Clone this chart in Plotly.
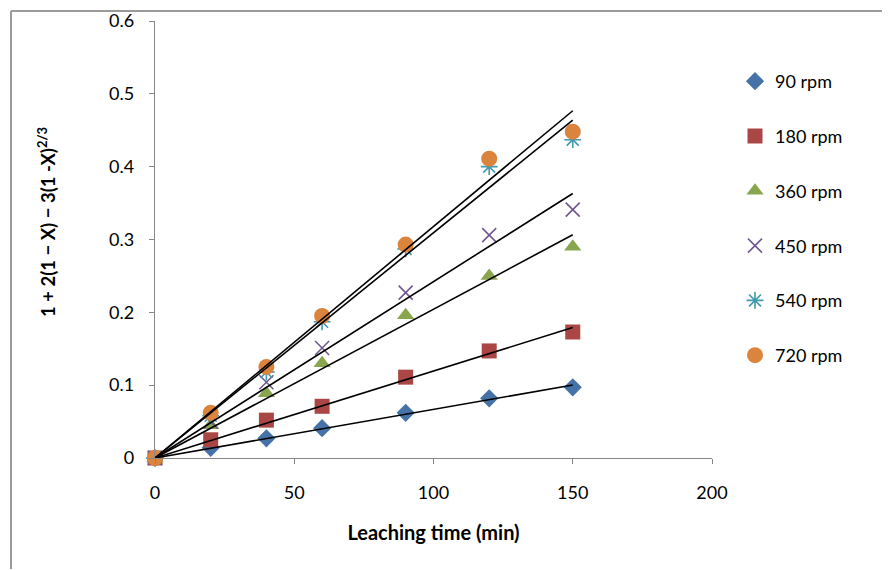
import plotly.graph_objects as go

time_min = [0, 20, 40, 60, 90, 120, 150]
series_names = ["90 rpm", "180 rpm", "360 rpm", "450 rpm", "540 rpm", "720 rpm"]
y_90 = [0, 0.014, 0.027, 0.041, 0.062, 0.082, 0.097]
y_180 = [0, 0.025, 0.052, 0.071, 0.111, 0.147, 0.173]
y_360 = [0, 0.045, 0.089, 0.130, 0.196, 0.250, 0.290]
y_450 = [0, 0.050, 0.104, 0.151, 0.227, 0.306, 0.341]
y_540 = [0, 0.058, 0.118, 0.187, 0.287, 0.400, 0.437]
y_720 = [0, 0.062, 0.125, 0.195, 0.293, 0.411, 0.448]
series_values = [y_90, y_180, y_360, y_450, y_540, y_720]
x_ticks = [0, 50, 100, 150, 200]
y_ticks = [0, 0.1, 0.2, 0.3, 0.4, 0.5, 0.6]

colors = ["#4572A7", "#AA4643", "#89A54E", "#71588F", "#4198AF", "#DB843D"]
symbols = ["diamond", "square", "triangle-up", "x-thin-open", "asterisk-open", "circle"]
sizes = [14, 15, 15, 14, 14, 16]

FONT = "Lato, 'Open Sans', sans-serif"

fig = go.Figure()
for i, (name, vals) in enumerate(zip(series_names, series_values)):
    open_sym = symbols[i].endswith("open")
    fig.add_trace(go.Scatter(
        x=time_min, y=vals, mode="markers", name=name,
        legendgroup=name,
        marker=dict(symbol=symbols[i], size=sizes[i], color=colors[i],
                    line=dict(color=colors[i], width=1.6 if open_sym else 0)),
    ))

# linear trendlines through origin (least squares)
for vals in series_values:
    sxy = sum(x * y for x, y in zip(time_min, vals))
    sxx = sum(x * x for x in time_min)
    k = sxy / sxx
    xe = time_min[-1]
    fig.add_trace(go.Scatter(
        x=[0, xe], y=[0, k * xe], mode="lines", showlegend=False,
        line=dict(color="black", width=1.6), hoverinfo="skip",
    ))

# page body has an 8px margin: compensate
OFF = 8
W, H = 890 - OFF, 570 - OFF
L, R, T, B = 155 - OFF, 712 - OFF, 21 - OFF, 458 - OFF
pw, ph = R - L, B - T

def px2paper_x(px):
    return (px - OFF - L) / pw

def px2paper_y(py):
    return (B - (py - OFF)) / ph

# outer border (top and left)
fig.add_shape(type="line", xref="paper", yref="paper", layer="above",
              x0=px2paper_x(11), x1=px2paper_x(889), y0=px2paper_y(11), y1=px2paper_y(11),
              line=dict(color="#9a9a9a", width=2))
fig.add_shape(type="line", xref="paper", yref="paper", layer="above",
              x0=px2paper_x(11), x1=px2paper_x(11), y0=px2paper_y(11), y1=px2paper_y(569),
              line=dict(color="#9a9a9a", width=2))

# y-axis title as annotation
fig.add_annotation(xref="paper", yref="paper", x=px2paper_x(47), y=px2paper_y(222),
                   text="<b>1 + 2(1 − X) − 3(1 -X)<sup>2/3</sup></b>", textangle=-90,
                   showarrow=False, xanchor="center", yanchor="middle",
                   font=dict(size=18.5, family=FONT, color="black"))

fig.update_layout(
    width=W, height=H,
    margin=dict(l=L, r=W - R, t=T, b=H - B, autoexpand=False),
    paper_bgcolor="white", plot_bgcolor="white",
    font=dict(family=FONT, size=18, color="black"),
    showlegend=True,
    legend=dict(x=px2paper_x(735), y=px2paper_y(63), xanchor="left", yanchor="top",
                font=dict(size=18, family=FONT), tracegroupgap=28.4,
                traceorder="grouped", itemwidth=30, bgcolor="rgba(0,0,0,0)"),
    xaxis=dict(range=[0, 200], tickvals=x_ticks, showgrid=False, zeroline=False,
               showline=True, linecolor="#868686", linewidth=1.3,
               ticks="outside", ticklen=5, tickcolor="#868686",
               ticklabelstandoff=13, tickfont=dict(size=18),
               title=dict(text="<b>Leaching time (min)</b>", font=dict(size=20, family=FONT), standoff=24)),
    yaxis=dict(range=[0, 0.6], tickvals=y_ticks, ticktext=["0", "0.1", "0.2", "0.3", "0.4", "0.5", "0.6"],
               showgrid=False, zeroline=False,
               showline=True, linecolor="#868686", linewidth=1.3,
               ticks="outside", ticklen=5, tickcolor="#868686",
               ticklabelstandoff=11, tickfont=dict(size=18)),
)
for tr in fig.data:
    tr.cliponaxis = False

fig.write_html("out.html", config={"displayModeBar": False})
